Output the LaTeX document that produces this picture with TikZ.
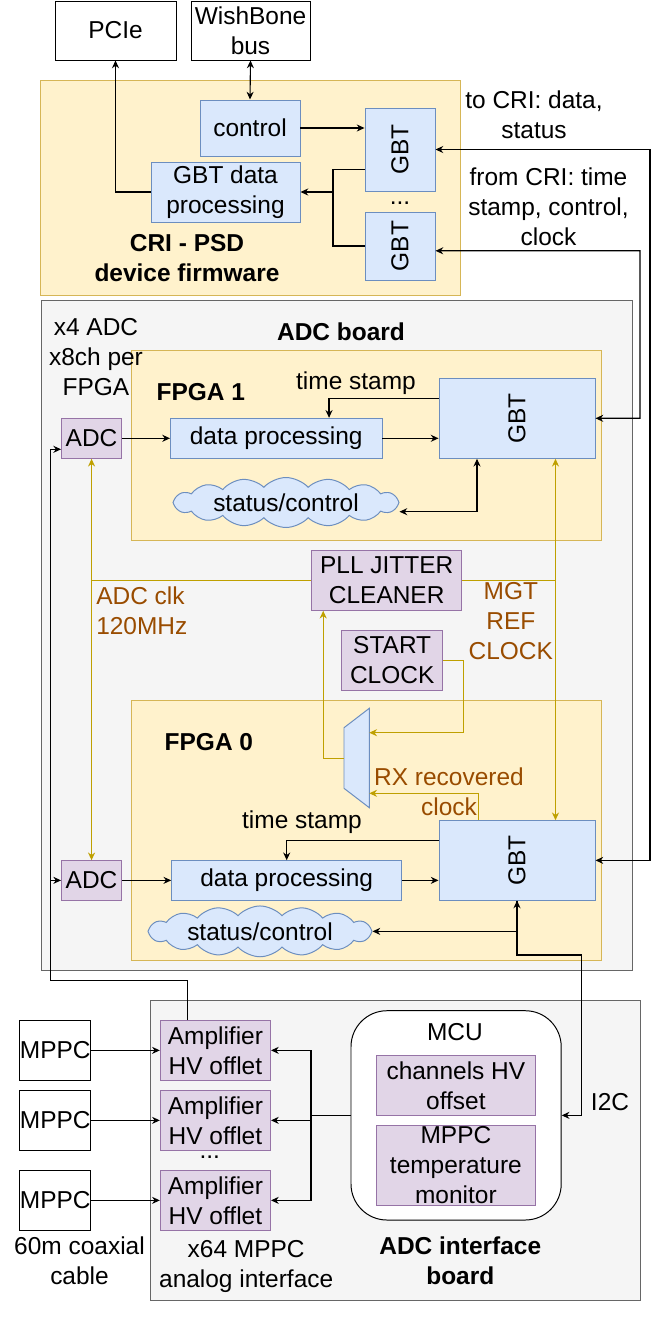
\documentclass[tikz,border=0pt]{standalone}
\usepackage{fontspec}
\setmainfont{Liberation Sans}
\usepackage{graphicx}
\usetikzlibrary{arrows.meta,positioning,shapes.symbols,calc}

\definecolor{ylwfill}{HTML}{FFF2CC}
\definecolor{ylwdraw}{HTML}{D6B656}
\definecolor{blufill}{HTML}{DAE8FC}
\definecolor{bludraw}{HTML}{6C8EBF}
\definecolor{purfill}{HTML}{E1D5E7}
\definecolor{purdraw}{HTML}{9673A6}
\definecolor{gryfill}{HTML}{F5F5F5}
\definecolor{grydraw}{HTML}{666666}
\definecolor{clkline}{HTML}{BFA000}
\definecolor{clktext}{HTML}{994C00}

\begin{document}
\begin{tikzpicture}[
	font=\fontsize{17.4}{21.3}\selectfont,
	>={Stealth[length=5.5pt,width=5pt]},
	box/.style={
		rectangle, line width=0.7pt,
		inner sep=0pt, align=center
	},
	blk/.style={box, draw=black, fill=white},
	blu/.style={box, draw=bludraw, fill=blufill},
	pur/.style={box, draw=purdraw, fill=purfill},
	ylw/.style={rectangle, draw=ylwdraw, fill=ylwfill, line width=0.7pt},
	gry/.style={rectangle, draw=grydraw, fill=gryfill, line width=0.7pt},
	cld/.style={
		cloud, cloud puffs=16, cloud puff arc=95, cloud ignores aspect,
		draw=bludraw, fill=blufill, line width=0.7pt, inner sep=0pt
	},
	mux/.style={draw=bludraw, fill=blufill, line width=0.7pt},
	wire/.style={line width=0.8pt, black},
	arr/.style={->, line width=0.8pt, black},
	darr/.style={<->, line width=0.8pt, black},
	clkwire/.style={line width=0.8pt, clkline},
	clk/.style={->, line width=0.8pt, clkline},
	dclk/.style={<->, line width=0.8pt, clkline},
	lbl/.style={align=center, inner sep=1pt},
	dots/.style={inner sep=0pt, text height=1.6pt, text depth=0pt},
	hdr/.style={lbl, font=\fontsize{17.4}{21.3}\selectfont\bfseries},
	clklbl/.style={lbl, text=clktext}
]
\useasboundingbox (0,0) rectangle (16.525,-33.025);

% CRI firmware
\node[ylw, minimum width=10.49cm, minimum height=5.375cm] (cri) at (6.256,-4.695) {};
\node[blk, minimum width=3.025cm, minimum height=1.475cm] (pcie) at (2.8875,-0.7625) {PCIe};
\node[blk, minimum width=2.975cm, minimum height=1.475cm] (wb) at (6.2625,-0.7625) {WishBone\\bus};
\node[blu, minimum width=1.75cm, minimum height=2.075cm] (gbta) at (10,-3.7375) {\rotatebox{90}{GBT}};
\node[blu, minimum width=1.75cm, minimum height=1.7cm] (gbtb) at (10,-6.15) {\rotatebox{90}{GBT}};
\node[blu, minimum width=2.5cm, minimum height=1.4cm] (ctrl) at (6.25,-3.2) {control};
\node[blu, minimum width=3.725cm, minimum height=1.5cm] (gbtdp) at (5.6375,-4.8) {GBT data\\processing};
\node[dots] (dotsa) at (10,-5.075) {...};
\node[hdr] (crilbl) at (4.675,-6.45) {CRI - PSD\\device firmware};
\node[lbl] (tocri) at (13.35,-2.875) {to CRI: data,\\status};
\node[lbl] (fromcri) at (13.7125,-5.175) {from CRI: time\\stamp, control,\\clock};

\draw[arr] (gbtdp.west) -| (pcie.south);
\draw[darr] (wb.south) -- (ctrl.north);
\draw[arr] (ctrl.east) -- (ctrl.east -| gbta.west);
\coordinate (gbtj) at (8.325,-4.8);
\draw[wire] ([yshift=-0.5cm]gbta.west) -| (gbtj);
\draw[wire] (gbtb.west) -| (gbtj);
\draw[arr] (gbtj) -- (gbtdp.east);

% ADC board
\node[gry, minimum width=14.765cm, minimum height=16.733cm] (adcb) at (8.4175,-15.884) {};
\node[hdr] (adcblbl) at (8.525,-8.2925) {ADC board};

% FPGA 1
\node[ylw, minimum width=11.7525cm, minimum height=4.7325cm] (fpga1) at (9.166,-11.134) {};
\node[lbl] (nadc) at (2.4,-8.9175) {x4 ADC\\x8ch per\\FPGA};
\node[hdr] (fpga1lbl) at (5.02,-9.7925) {FPGA 1};
\node[blu, minimum width=3.9cm, minimum height=2cm] (gbt1) at (12.925,-10.4575) {\rotatebox{90}{GBT}};
\node[blu, minimum width=5.2875cm, minimum height=1cm] (dp1) at (6.906,-10.9575) {data processing};
\node[pur, minimum width=1.5cm, minimum height=1cm] (adc1) at (2.289,-10.9575) {ADC};
\node[cld, minimum width=5.65cm, minimum height=1.25cm] (cloud1) at (7.15,-12.5625) {};
\node[lbl] (sc1) at (cloud1) {status/control};
\node[lbl] (ts1) at (8.9,-9.5675) {time stamp};

\draw[arr] (adc1) -- (dp1);
\draw[arr] (dp1.east) -- (dp1.east -| gbt1.west);
\draw[arr] ([yshift=0.5cm]gbt1.west) -| ([xshift=1.32cm]dp1.north);
\draw[darr] ([yshift=-0.23cm]cloud1.east) -| ([xshift=-1cm]gbt1.south);

% clocks
\node[pur, minimum width=3.75cm, minimum height=1.49cm] (pll) at (9.6675,-14.5125) {PLL JITTER\\CLEANER};
\node[pur, minimum width=2.525cm, minimum height=1.5cm] (start) at (9.805,-16.5075) {START\\CLOCK};
\node[clklbl] (mgtlbl) at (12.77,-15.525) {MGT\\REF\\CLOCK};
\node[clklbl, anchor=west, align=left] (adcclk) at (2.365,-15.275) {ADC clk\\120MHz};

% FPGA 0
\node[ylw, minimum width=11.7525cm, minimum height=6.4825cm] (fpga0) at (9.166,-20.759) {};
\node[hdr] (fpga0lbl) at (5.2225,-18.5425) {FPGA 0};
\node[blu, minimum width=3.9cm, minimum height=1.9825cm] (gbt0) at (12.925,-21.509) {\rotatebox{90}{GBT}};
\node[blu, minimum width=5.75cm, minimum height=0.9825cm] (dp0) at (7.1675,-22.009) {data processing};
\node[pur, minimum width=1.5cm, minimum height=0.9825cm] (adc0) at (2.289,-22.009) {ADC};
\node[cld, minimum width=5.6cm, minimum height=1.27cm] (cloud0) at (6.5,-23.284) {};
\node[lbl] (sc0) at (cloud0) {status/control};
\node[lbl] (ts0) at (7.55,-20.5575) {time stamp};
\node[clklbl] (rxlbl) at (11.225,-19.8) {RX recovered\\clock};

% clock mux
\draw[mux] (8.6,-18.1925) -- (9.2325,-17.7075) -- (9.2325,-20.1925) -- (8.6,-19.7075) -- cycle;
\coordinate (muxa) at (9.2325,-18.3175);
\coordinate (muxb) at (9.2325,-19.8325);
\coordinate (muxo) at (8.6,-18.9575);

\draw[dclk] (adc1.south) -- (adc0.north);
\draw[clkwire] (pll.west) -- (pll.west -| adc1.south);
\coordinate (mgt) at ([xshift=-1cm]gbt1.south east);
\draw[dclk] (mgt) -- ([xshift=-1cm]gbt0.north east);
\draw[clkwire] (pll.east) -- (pll.east -| mgt);
\draw[clk] (start.east) -- ++(0.5,0) |- (muxa);
\draw[clk] ([xshift=1cm]gbt0.north west) |- (muxb);
\draw[clk] (muxo) -| ([xshift=0.3cm]pll.south west);

\draw[arr] (adc0) -- (dp0);
\draw[arr] (dp0.east) -- (dp0.east -| gbt0.west);
\draw[arr] ([yshift=0.5cm]gbt0.west) -| (dp0.north);
\draw[darr] (cloud0.east) -| (gbt0.south);

% links to CRI
\coordinate (cria) at (16.25,-3.7375);
\coordinate (crib) at (16,-6.27);
\draw[darr] (gbta.east) -- (cria) |- (gbt0.east);
\draw[darr] ([yshift=-0.12cm]gbtb.east) -- (crib) |- (gbt1.east);

% ADC interface board
\node[gry, minimum width=12.2475cm, minimum height=7.4825cm] (ifb) at (9.889,-28.759) {};
\foreach \i/\y in {1/-26.259, 2/-28.009, 3/-30.009} {
	\node[blk, minimum width=1.75cm, minimum height=1.4825cm] (mppc\i) at (1.3825,\y) {MPPC};
	\node[pur, minimum width=2.755cm, minimum height=1.4825cm] (amp\i) at (5.385,\y) {Amplifier\\HV offlet};
	\draw[arr] (mppc\i) -- (amp\i);
}
\node[dots] (dotsb) at (5.2425,-28.93) {...};
\node[box, rounded corners=0.9cm, draw=black, fill=white, minimum width=5.255cm, minimum height=5.2325cm] (mcu) at (11.4025,-27.884) {};
\node[lbl] (mculbl) at (11.3725,-25.7925) {MCU};
\node[pur, minimum width=3.955cm, minimum height=1.49cm] (chhv) at (11.3975,-27.1375) {channels HV\\offset};
\node[pur, minimum width=3.955cm, minimum height=2cm] (temp) at (11.3975,-29.1325) {MPPC\\temperature\\monitor};
\node[lbl] (coax) at (1.9875,-31.525) {60m coaxial\\cable};
\node[lbl] (x64) at (6.155,-31.6675) {x64 MPPC\\analog interface};
\node[hdr] (ifblbl) at (11.5075,-31.525) {ADC interface\\board};
\node[lbl] (i2c) at (15.25,-27.5425) {I2C};

\coordinate (ampbus) at (7.775,-27.884);
\draw[wire] (mcu.west) -- (ampbus);
\foreach \i in {1,2,3}
	\draw[arr] (ampbus) |- (amp\i.east);

% analog signal to ADCs
\coordinate (wl) at (1.265,-24.5175);
\draw[arr] ([xshift=-0.69cm]amp1.north) |- (wl) |- ([yshift=-0.275cm]adc1.west);
\draw[arr] (wl) |- (adc0.west);

% I2C
\coordinate (i2cx) at (14.535,-23.875);
\draw[arr] (gbt0.south) |- (i2cx) |- (mcu.east);

\end{tikzpicture}
\end{document}
